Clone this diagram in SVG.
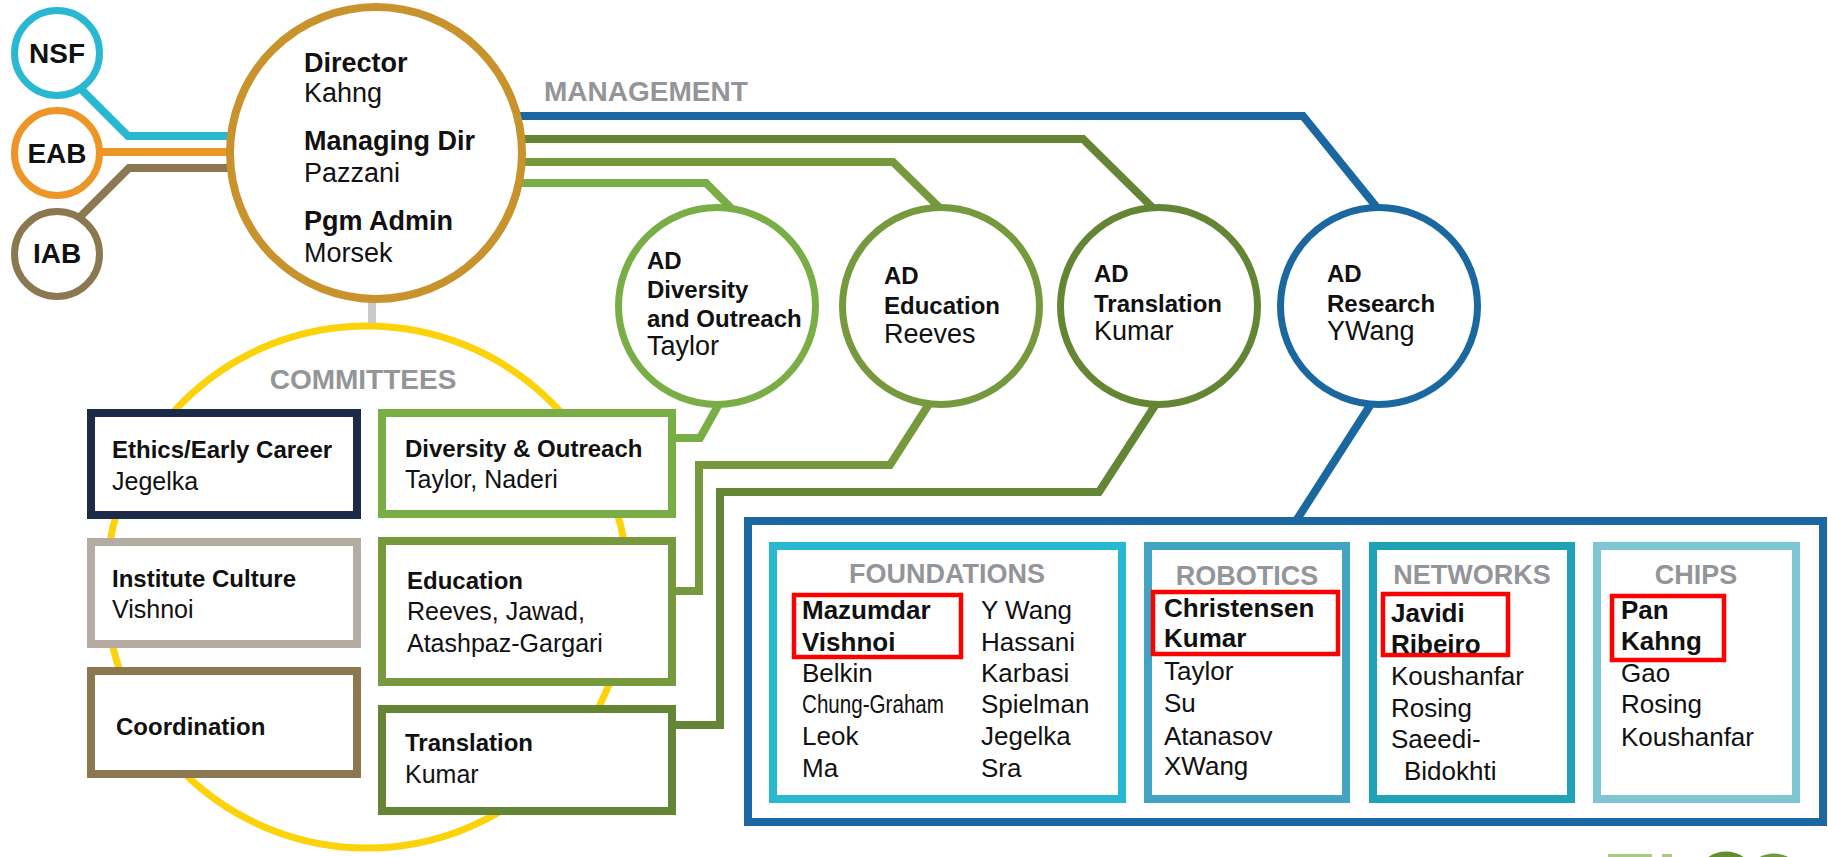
<svg xmlns="http://www.w3.org/2000/svg" width="1828" height="857" viewBox="0 0 1828 857">
<style>
text{font-family:"Liberation Sans",Arial,sans-serif;fill:#111}
.b{font-weight:bold}
.hdr{font-weight:bold;fill:#939598}
.c{fill:#fff;stroke-width:7}
.box{fill:#fff;stroke-width:8}
.ln{fill:none;stroke-width:8;stroke-linejoin:miter}
.red{fill:none;stroke:#ff0000;stroke-width:4.5}
.s24{font-size:24px}
.s25{font-size:25px}
.s26{font-size:26px}
.s27{font-size:27px}
.s28{font-size:28px}
</style>
<rect width="1828" height="857" fill="#fff"/>

<g id="committees">
  <circle cx="367" cy="587" r="261" fill="none" stroke="#fcd20a" stroke-width="7"/>
  <text class="hdr s28" x="363" y="389" text-anchor="middle">COMMITTEES</text>
</g>

<g id="connectors">
  <polyline class="ln" stroke="#29b8d1" points="60,68 128,136 235,136"/>
  <polyline class="ln" stroke="#ee9527" points="60,152 235,152"/>
  <polyline class="ln" stroke="#8b7750" points="60,237 129,168 235,168"/>
  <line x1="372" y1="295" x2="372" y2="323" stroke="#c9cacc" stroke-width="8"/>
  <polyline class="ln" stroke="#1b67a0" points="470,116 1303,116 1383,215"/>
  <polyline class="ln" stroke="#648533" points="470,139 1083,139 1158,213"/>
  <polyline class="ln" stroke="#76993e" points="470,162 893,162 944,212"/>
  <polyline class="ln" stroke="#79ad45" points="470,183 706,183 735,212"/>
  <polyline class="ln" stroke="#79ad45" points="672,438 700,438 719,404"/>
  <polyline class="ln" stroke="#76993e" points="672,591 699,591 699,465 890,465 929,404"/>
  <polyline class="ln" stroke="#648533" points="672,725 720,725 720,492 1099,492 1156,404"/>
  <polyline class="ln" stroke="#1b67a0" points="1371,404 1296,521"/>
</g>

<g id="nsf">
  <circle class="c" cx="57" cy="53" r="42.5" stroke="#29b8d1"/>
  <text class="b s28" x="57" y="63" text-anchor="middle">NSF</text>
</g>
<g id="eab">
  <circle class="c" cx="57" cy="153" r="42.5" stroke="#ee9527"/>
  <text class="b s28" x="57" y="163" text-anchor="middle">EAB</text>
</g>
<g id="iab">
  <circle class="c" cx="57" cy="254" r="42.5" stroke="#8b7750"/>
  <text class="b s28" x="57" y="263" text-anchor="middle">IAB</text>
</g>

<g id="director">
  <circle cx="376" cy="153" r="146" fill="#fff" stroke="#c8922c" stroke-width="8"/>
  <text class="b s27" x="304" y="72">Director</text>
  <text class="s27" x="304" y="102">Kahng</text>
  <text class="b s27" x="304" y="150">Managing Dir</text>
  <text class="s27" x="304" y="182">Pazzani</text>
  <text class="b s27" x="304" y="230">Pgm Admin</text>
  <text class="s27" x="304" y="262">Morsek</text>
</g>

<text id="management-label" class="hdr s28" x="544" y="101">MANAGEMENT</text>

<g id="ad-diversity">
  <circle class="c" cx="717" cy="306" r="98.5" stroke="#79ad45"/>
  <text class="b s24" x="647" y="269">AD</text>
  <text class="b s24" x="647" y="298">Diversity</text>
  <text class="b s24" x="647" y="327">and Outreach</text>
  <text class="s27" x="647" y="355">Taylor</text>
</g>
<g id="ad-education">
  <circle class="c" cx="941" cy="306" r="98.5" stroke="#76993e"/>
  <text class="b s24" x="884" y="284">AD</text>
  <text class="b s24" x="884" y="314">Education</text>
  <text class="s27" x="884" y="343">Reeves</text>
</g>
<g id="ad-translation">
  <circle class="c" cx="1159" cy="306" r="98.5" stroke="#648533"/>
  <text class="b s24" x="1094" y="282">AD</text>
  <text class="b s24" x="1094" y="312">Translation</text>
  <text class="s27" x="1094" y="340">Kumar</text>
</g>
<g id="ad-research">
  <circle class="c" cx="1379" cy="306" r="98.5" stroke="#1b67a0"/>
  <text class="b s24" x="1327" y="282">AD</text>
  <text class="b s24" x="1327" y="312">Research</text>
  <text class="s27" x="1327" y="340">YWang</text>
</g>

<g id="ethics">
  <rect class="box" x="91" y="413" width="266" height="102" stroke="#1b2a47"/>
  <text class="b s24" x="112" y="458">Ethics/Early Career</text>
  <text class="s25" x="112" y="490">Jegelka</text>
</g>
<g id="institute-culture">
  <rect class="box" x="91" y="542" width="266" height="102" stroke="#b4aca0"/>
  <text class="b s24" x="112" y="587">Institute Culture</text>
  <text class="s25" x="112" y="618">Vishnoi</text>
</g>
<g id="coordination">
  <rect class="box" x="91" y="671" width="266" height="103" stroke="#8b7750"/>
  <text class="b s24" x="116" y="735">Coordination</text>
</g>
<g id="diversity-committee">
  <rect class="box" x="382" y="413" width="290" height="101" stroke="#79ad45"/>
  <text class="b s24" x="405" y="457">Diversity &amp; Outreach</text>
  <text class="s25" x="405" y="488">Taylor, Naderi</text>
</g>
<g id="education-committee">
  <rect class="box" x="382" y="541" width="290" height="141" stroke="#76993e"/>
  <text class="b s24" x="407" y="589">Education</text>
  <text class="s25" x="407" y="620">Reeves, Jawad,</text>
  <text class="s25" x="407" y="652">Atashpaz-Gargari</text>
</g>
<g id="translation-committee">
  <rect class="box" x="382" y="709" width="290" height="102" stroke="#648533"/>
  <text class="b s24" x="405" y="751">Translation</text>
  <text class="s25" x="405" y="783">Kumar</text>
</g>

<g id="research">
  <rect class="box" x="748" y="521" width="1075" height="301" stroke="#1b67a0"/>
</g>
<g id="foundations">
  <rect class="box" x="773" y="546" width="349" height="253" stroke="#29b8d1"/>
  <text class="hdr s27" x="947" y="583" text-anchor="middle">FOUNDATIONS</text>
  <rect class="red" x="794" y="595" width="167" height="62"/>
  <text class="b s26" x="802" y="619">Mazumdar</text>
  <text class="b s26" x="802" y="651">Vishnoi</text>
  <text class="s26" x="802" y="682">Belkin</text>
  <text class="s26" x="802" y="713" textLength="142" lengthAdjust="spacingAndGlyphs">Chung-Graham</text>
  <text class="s26" x="802" y="745">Leok</text>
  <text class="s26" x="802" y="777">Ma</text>
  <text class="s26" x="981" y="619">Y Wang</text>
  <text class="s26" x="981" y="651">Hassani</text>
  <text class="s26" x="981" y="682">Karbasi</text>
  <text class="s26" x="981" y="713">Spielman</text>
  <text class="s26" x="981" y="745">Jegelka</text>
  <text class="s26" x="981" y="777">Sra</text>
</g>
<g id="robotics">
  <rect class="box" x="1148" y="546" width="198" height="253" stroke="#43a3c3"/>
  <text class="hdr s27" x="1247" y="585" text-anchor="middle">ROBOTICS</text>
  <rect class="red" x="1153" y="592" width="185" height="62"/>
  <text class="b s26" x="1164" y="617">Christensen</text>
  <text class="b s26" x="1164" y="647">Kumar</text>
  <text class="s26" x="1164" y="680">Taylor</text>
  <text class="s26" x="1164" y="712">Su</text>
  <text class="s26" x="1164" y="745">Atanasov</text>
  <text class="s26" x="1164" y="775">XWang</text>
</g>
<g id="networks">
  <rect class="box" x="1373" y="546" width="198" height="253" stroke="#1fa3b7"/>
  <text class="hdr s27" x="1472" y="584" text-anchor="middle">NETWORKS</text>
  <rect class="red" x="1383" y="594" width="125" height="61"/>
  <text class="b s26" x="1391" y="622">Javidi</text>
  <text class="b s26" x="1391" y="653">Ribeiro</text>
  <text class="s26" x="1391" y="685">Koushanfar</text>
  <text class="s26" x="1391" y="717">Rosing</text>
  <text class="s26" x="1391" y="748">Saeedi-</text>
  <text class="s26" x="1404" y="780">Bidokhti</text>
</g>
<g id="chips">
  <rect class="box" x="1597" y="546" width="199" height="253" stroke="#7dc6d2"/>
  <text class="hdr s27" x="1696" y="584" text-anchor="middle">CHIPS</text>
  <rect class="red" x="1612" y="596" width="112" height="64"/>
  <text class="b s26" x="1621" y="619">Pan</text>
  <text class="b s26" x="1621" y="650">Kahng</text>
  <text class="s26" x="1621" y="682">Gao</text>
  <text class="s26" x="1621" y="713">Rosing</text>
  <text class="s26" x="1621" y="746">Koushanfar</text>
</g>

<g id="logo-fragment">
  <rect x="1608" y="854" width="44" height="4" fill="#a8c97f"/>
  <rect x="1662" y="854" width="10" height="4" fill="#a8c97f"/>
  <circle cx="1726" cy="882" r="27" fill="none" stroke="#5f8f2e" stroke-width="7"/>
  <circle cx="1774" cy="884" r="27" fill="none" stroke="#6e9a3a" stroke-width="7"/>
</g>
</svg>
